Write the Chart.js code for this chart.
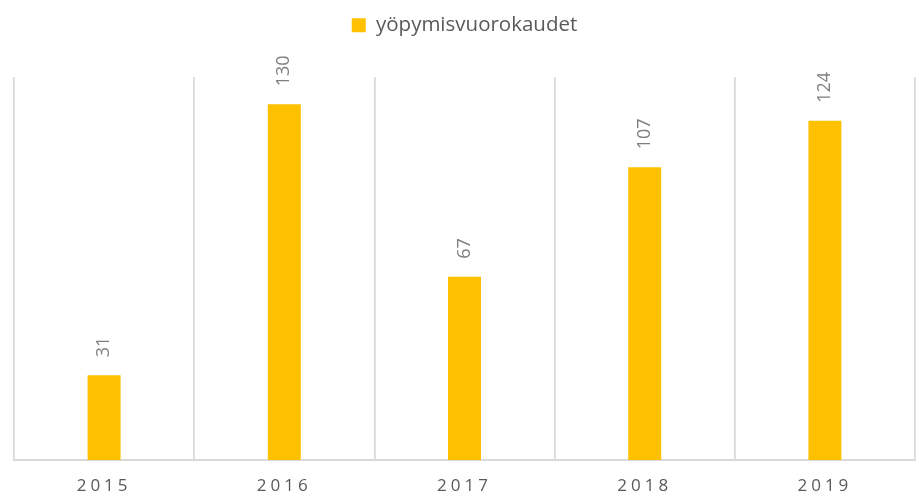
<!DOCTYPE html>
<html><head><meta charset="utf-8">
<script src="https://cdn.jsdelivr.net/npm/chart.js@4.4.1/dist/chart.umd.min.js"></script>
<style>html,body{margin:0;padding:0;background:#fff;overflow:hidden}</style>
</head><body>
<canvas id="c" width="917" height="496" style="display:block;width:917px;height:496px"></canvas>
<script>
const categories = ['2015', '2016', '2017', '2018', '2019'];
const seriesName = 'yöpymisvuorokaudet';
const values = [31, 130, 67, 107, 124];
const yMax = 140;

const FONT = "'Open Sans', sans-serif";
const PLOT_TOP = 77;

const legendSpacer = {
  id: 'legendSpacer',
  beforeLayout(chart) {
    const lg = chart.legend;
    if (lg && !lg._spaced) {
      lg._spaced = true;
      const origFit = lg.fit;
      lg.fit = function () {
        origFit.call(this);
        this.height = PLOT_TOP - (this.top || 0);
      };
    }
  }
};

const barLabels = {
  id: 'barLabels',
  afterDatasetsDraw(chart) {
    const ctx = chart.ctx;
    const meta = chart.getDatasetMeta(0);
    ctx.save();
    ctx.font = "18px " + FONT;
    ctx.fillStyle = '#7f7f7f';
    ctx.textAlign = 'left';
    ctx.textBaseline = 'middle';
    meta.data.forEach((bar, i) => {
      ctx.save();
      ctx.translate(bar.x, bar.y - 18);
      ctx.rotate(-Math.PI / 2);
      ctx.fillText(String(chart.data.datasets[0].data[i]), 0, 0);
      ctx.restore();
    });
    ctx.restore();
    ctx.letterSpacing = '4px';
  },
  afterDraw(chart) {
    chart.ctx.letterSpacing = '0px';
  }
};

new Chart(document.getElementById('c'), {
  type: 'bar',
  data: {
    labels: categories,
    datasets: [{
      label: seriesName,
      data: values,
      backgroundColor: '#FFC000',
      borderWidth: 0,
      categoryPercentage: 1,
      barPercentage: 0.183
    }]
  },
  options: {
    responsive: false,
    animation: false,
    layout: { padding: { left: 14, right: 2, top: 0, bottom: 0 } },
    plugins: {
      legend: {
        position: 'top',
        labels: {
          boxWidth: 14, boxHeight: 14, padding: 15,
          color: '#595959',
          font: { family: FONT, size: 20.5 }
        }
      },
      tooltip: { enabled: false }
    },
    scales: {
      x: {
        offset: true,
        grid: { display: true, offset: true, color: '#d9d9d9', lineWidth: 1.75, drawTicks: false, z: 0 },
        border: { display: true, color: '#d9d9d9', width: 2 },
        ticks: { color: '#595959', font: { family: FONT, size: 17 }, padding: 16, z: 1 },
        afterFit(scale) { scale.height = 36; }
      },
      y: {
        display: false,
        min: 0, max: yMax
      }
    }
  },
  plugins: [legendSpacer, barLabels]
});
</script>
</body></html>
